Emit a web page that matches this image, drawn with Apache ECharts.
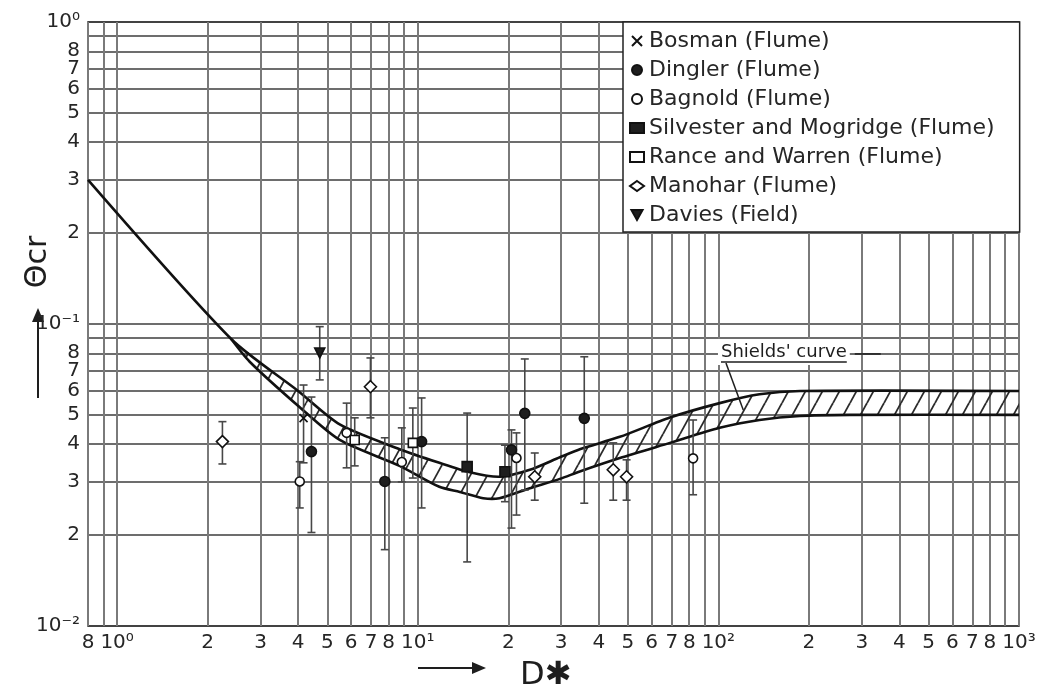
<!DOCTYPE html>
<html>
<head>
<meta charset="utf-8">
<script src="https://cdn.jsdelivr.net/npm/echarts@6/dist/echarts.min.js"></script>
<style>
  html, body { margin: 0; padding: 0; background: #fff; }
  #chart { width: 1045px; height: 697px; }
</style>
</head>
<body>
<div id="chart"></div>
<script>
// Critical Shields parameter θcr against dimensionless grain size D*, log–log.
// Axes work in log10 space; every value below is given in real units.

// ---- axis ticks ----
const xTickValues = [0.8, 0.9, 1, 2, 3, 4, 5, 6, 7, 8, 9, 10, 20, 30, 40, 50, 60, 70, 80, 90,
  100, 200, 300, 400, 500, 600, 700, 800, 900, 1000];
const xLabelValues = [0.8, 1, 2, 3, 4, 5, 6, 7, 8, 10, 20, 30, 40, 50, 60, 70, 80,
  100, 200, 300, 400, 500, 600, 700, 800, 1000];
const xLabelTexts = ['8', '10⁰', '2', '3', '4', '5', '6', '7', '8', '10¹', '2', '3', '4', '5', '6', '7', '8',
  '10²', '2', '3', '4', '5', '6', '7', '8', '10³'];

const yTickValues = [0.01, 0.02, 0.03, 0.04, 0.05, 0.06, 0.07, 0.08, 0.09,
  0.1, 0.2, 0.3, 0.4, 0.5, 0.6, 0.7, 0.8, 0.9, 1];
const yLabelValues = [0.01, 0.02, 0.03, 0.04, 0.05, 0.06, 0.07, 0.08,
  0.1, 0.2, 0.3, 0.4, 0.5, 0.6, 0.7, 0.8, 1];
const yLabelTexts = ['10⁻²', '2', '3', '4', '5', '6', '7', '8',
  '10⁻¹', '2', '3', '4', '5', '6', '7', '8', '10⁰'];

// ---- Shields' band (upper and lower limits) ----
const shieldsUpperD     = [0.8, 2.4, 4.0, 5.5, 8.7, 11.8, 14.9, 18.7, 23.6, 29.7, 34.6, 47, 69, 101, 137, 187, 1000];
const shieldsUpperTheta = [0.30, 0.089, 0.060, 0.0465, 0.0385, 0.0347, 0.0323, 0.0312, 0.0329, 0.0362, 0.0385, 0.0423, 0.049, 0.0547, 0.0585, 0.060, 0.060];
const shieldsLowerD     = [2.4, 2.76, 4.05, 5.5, 8.7, 11.8, 13.8, 16.5, 18.7, 23.6, 29.7, 34.6, 47, 69, 101, 137, 187, 274, 1000];
const shieldsLowerTheta = [0.089, 0.075, 0.053, 0.0413, 0.0339, 0.0289, 0.0278, 0.0265, 0.0265, 0.0286, 0.0307, 0.0325, 0.0360, 0.0404, 0.0453, 0.0481, 0.0496, 0.050, 0.050];

const shieldsNote = { text: "Shields' curve", at: [102, 0.0808], pointsTo: [121, 0.0519] };

// ---- measurements: [D*, θcr, θcr upper, θcr lower] ----
const bosman    = [[4.17, 0.0488, 0.0628, 0.0347]];
const dingler   = [[4.43, 0.0378, 0.0573, 0.0204], [7.77, 0.0301, 0.042, 0.0179], [10.3, 0.0408, 0.0569, 0.0246],
                   [20.5, 0.0383, 0.0446, 0.0211], [22.7, 0.0506, 0.0766, 0.0282], [35.8, 0.0487, 0.0779, 0.0255]];
const bagnold   = [[4.05, 0.0301, 0.035, 0.0246], [5.80, 0.0436, 0.0547, 0.0334], [8.85, 0.0349, 0.0453, 0.030],
                   [21.3, 0.036, 0.0436, 0.0233], [82.4, 0.0359, 0.0481, 0.0272]];
const silvester = [[14.6, 0.0337, 0.0507, 0.0163], [19.5, 0.0324, 0.0397, 0.0258]];
const rance     = [[6.17, 0.0413, 0.0489, 0.0339], [9.63, 0.0404, 0.0527, 0.0309]];
const manohar   = [[2.24, 0.0408, 0.0475, 0.0344], [6.96, 0.062, 0.0772, 0.0489], [24.5, 0.0312, 0.0374, 0.0261],
                   [44.7, 0.0329, 0.0404, 0.0261], [49.5, 0.0312, 0.0355, 0.0261]];
const davies    = [[4.72, 0.0802, 0.098, 0.0653]];

const FONT = 'DejaVu Sans';
const INK = '#1e1e1e';
const lg = v => Math.log10(v);

function labelFor(values, texts) {
  return function (v) {
    for (let i = 0; i < values.length; i++) {
      if (Math.abs(lg(values[i]) - v) < 1e-6) return texts[i];
    }
    return '';
  };
}

// diagonal hatching for the band
function makeHatch() {
  const w = 17, h = 31;
  const c = document.createElement('canvas');
  c.width = w; c.height = h;
  const ctx = c.getContext('2d');
  ctx.strokeStyle = '#2a2a2a';
  ctx.lineWidth = 1.8;
  for (const dx of [-w, 0, w]) {
    ctx.beginPath();
    ctx.moveTo(dx, h);
    ctx.lineTo(dx + w, 0);
    ctx.stroke();
  }
  return c;
}
const hatch = makeHatch();

function textWidth(str, font) {
  const c = document.createElement('canvas').getContext('2d');
  c.font = font;
  return c.measureText(str).width;
}

const groups = [
  { name: 'Bosman (Flume)', data: bosman, symbol: 'path://M0,0L10,10M10,0L0,10', size: 8, fill: INK },
  { name: 'Dingler (Flume)', data: dingler, symbol: 'circle', size: 10, fill: INK },
  { name: 'Bagnold (Flume)', data: bagnold, symbol: 'circle', size: 9, fill: '#fff' },
  { name: 'Silvester and Mogridge (Flume)', data: silvester, symbol: 'rect', size: 10, fill: INK },
  { name: 'Rance and Warren (Flume)', data: rance, symbol: 'rect', size: 9, fill: '#fff' },
  { name: 'Manohar (Flume)', data: manohar, symbol: 'diamond', size: 12, fill: '#fff' },
  { name: 'Davies (Field)', data: davies, symbol: 'path://M0,0L10,0L5,9Z', size: 10, fill: INK }
];

const allBars = [];
groups.forEach(g => g.data.forEach(p => allBars.push([lg(p[0]), lg(p[3]), lg(p[2])])));

const bandSeries = {
  type: 'custom',
  name: 'band',
  coordinateSystem: 'cartesian2d',
  silent: true,
  z: 3,
  data: [[lg(1), lg(0.1)]],
  renderItem: function (params, api) {
    const up = shieldsUpperD.map((d, i) => api.coord([lg(d), lg(shieldsUpperTheta[i])]));
    const low = shieldsLowerD.map((d, i) => api.coord([lg(d), lg(shieldsLowerTheta[i])]));
    const poly = up.concat(low.slice().reverse());
    const a = api.coord([lg(shieldsNote.at[0]), lg(shieldsNote.at[1])]);
    const t = api.coord([lg(shieldsNote.pointsTo[0]), lg(shieldsNote.pointsTo[1])]);
    const font = '18px "' + FONT + '"';
    const tw = textWidth(shieldsNote.text, font);
    return {
      type: 'group',
      children: [
        { type: 'polygon', shape: { points: poly }, style: { fill: { image: hatch, repeat: 'repeat' }, stroke: null } },
        { type: 'polyline', shape: { points: up, smooth: 0.25 }, style: { stroke: '#111', lineWidth: 2.6, fill: null } },
        { type: 'polyline', shape: { points: low, smooth: 0.25 }, style: { stroke: '#111', lineWidth: 2.6, fill: null } },
        { type: 'rect', shape: { x: a[0] - 3, y: a[1] - 13, width: tw + 6, height: 26 }, style: { fill: '#fff' } },
        { type: 'text', x: a[0], y: a[1], style: { text: shieldsNote.text, font: font, fill: INK, align: 'left', verticalAlign: 'middle' } },
        { type: 'line', shape: { x1: a[0], y1: a[1] + 10, x2: a[0] + tw, y2: a[1] + 10 }, style: { stroke: INK, lineWidth: 1.5 } },
        { type: 'line', shape: { x1: a[0] + tw + 8, y1: a[1] + 2, x2: a[0] + tw + 34, y2: a[1] + 2 }, style: { stroke: INK, lineWidth: 1.5 } },
        { type: 'line', shape: { x1: a[0] + 5, y1: a[1] + 11, x2: t[0], y2: t[1] }, style: { stroke: INK, lineWidth: 1.5 } }
      ]
    };
  }
};

const barSeries = {
  type: 'custom',
  name: 'errorbars',
  coordinateSystem: 'cartesian2d',
  silent: true,
  z: 4,
  data: allBars,
  renderItem: function (params, api) {
    const x = api.value(0);
    const b = api.coord([x, api.value(1)]);
    const a = api.coord([x, api.value(2)]);
    const c = 4;
    const st = { stroke: '#474747', lineWidth: 1.6 };
    return {
      type: 'group',
      children: [
        { type: 'line', shape: { x1: a[0], y1: a[1], x2: b[0], y2: b[1] }, style: st },
        { type: 'line', shape: { x1: a[0] - c, y1: a[1], x2: a[0] + c, y2: a[1] }, style: st },
        { type: 'line', shape: { x1: b[0] - c, y1: b[1], x2: b[0] + c, y2: b[1] }, style: st }
      ]
    };
  }
};

const scatterSeries = groups.map(g => ({
  type: 'scatter',
  name: g.name,
  z: 5,
  symbol: g.symbol,
  symbolSize: g.size,
  itemStyle: { color: g.fill, borderColor: '#111', borderWidth: 1.6, opacity: 1 },
  emphasis: { disabled: true },
  data: g.data.map(p => [lg(p[0]), lg(p[1])])
}));

const chart = echarts.init(document.getElementById('chart'), null, { renderer: 'canvas' });
chart.setOption({
  animation: false,
  backgroundColor: '#fff',
  textStyle: { fontFamily: FONT },
  grid: { left: 88, right: 26, top: 22, bottom: 71, show: true, borderColor: '#222', borderWidth: 1.6, backgroundColor: 'transparent' },
  xAxis: {
    type: 'value',
    min: lg(0.8), max: 3,
    axisLine: { show: false },
    axisTick: { show: false, customValues: xTickValues.map(lg) },
    axisLabel: {
      customValues: xLabelValues.map(lg),
      formatter: labelFor(xLabelValues, xLabelTexts),
      fontFamily: FONT, fontSize: 20, color: '#262626', margin: 7
    },
    splitLine: { show: true, lineStyle: { color: '#7a7a7a', width: 2 } }
  },
  yAxis: {
    type: 'value',
    min: -2, max: 0,
    axisLine: { show: false },
    axisTick: { show: false, customValues: yTickValues.map(lg) },
    axisLabel: {
      customValues: yLabelValues.map(lg),
      formatter: labelFor(yLabelValues, yLabelTexts),
      fontFamily: FONT, fontSize: 20, color: '#262626', margin: 8
    },
    splitLine: { show: true, lineStyle: { color: '#3c3c3c', width: 1.6 } }
  },
  legend: {
    orient: 'vertical',
    left: 623, top: 22,
    padding: [8, 25, 6, 6],
    itemGap: 7,
    itemWidth: 14, itemHeight: 10,
    backgroundColor: '#fff',
    borderColor: '#222', borderWidth: 1.5,
    selectedMode: false,
    textStyle: { fontFamily: FONT, fontSize: 22, color: '#262626', lineHeight: 22 },
    data: groups.map(g => g.name)
  },
  graphic: [
    // y-axis title with upward arrow
    { type: 'text', x: 38, y: 262, rotation: Math.PI / 2,
      style: { text: 'Θcr', font: '30px "' + FONT + '"', fill: INK, align: 'center', verticalAlign: 'middle' } },
    { type: 'line', shape: { x1: 38, y1: 398, x2: 38, y2: 318 }, style: { stroke: INK, lineWidth: 2 } },
    { type: 'polygon', shape: { points: [[38, 308], [32, 322], [44, 322]] }, style: { fill: INK } },
    // x-axis title with rightward arrow
    { type: 'line', shape: { x1: 418, y1: 668, x2: 476, y2: 668 }, style: { stroke: INK, lineWidth: 2 } },
    { type: 'polygon', shape: { points: [[486, 668], [472, 662], [472, 674]] }, style: { fill: INK } },
    { type: 'text', x: 520, y: 676,
      style: { text: 'D✱', font: '32px "' + FONT + '"', fill: INK, align: 'left', verticalAlign: 'middle' } }
  ],
  series: [bandSeries, barSeries].concat(scatterSeries)
});
</script>
</body>
</html>
